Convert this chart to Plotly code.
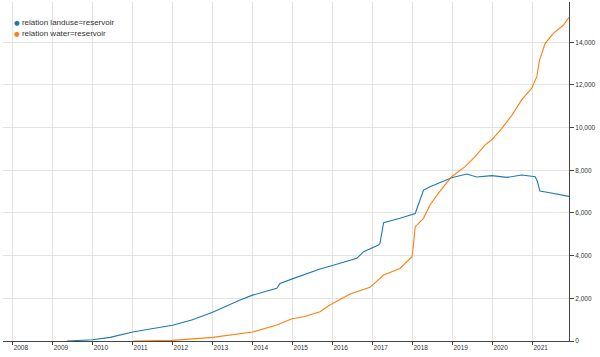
import plotly.graph_objects as go

# ---- data ----
series_names = ["relation landuse=reservoir", "relation water=reservoir"]
series_colors = ["#1f77b4", "#ff7f0e"]

landuse_dates = [
    "2009-05-12", "2009-09-09", "2010-01-01", "2010-06-10", "2011-01-01",
    "2011-06-10", "2012-01-01", "2012-07-01", "2013-01-01", "2013-09-09",
    "2014-01-01", "2014-08-10", "2014-09-09", "2014-12-24", "2015-09-09",
    "2015-12-24", "2016-08-10", "2016-10-12", "2017-02-24", "2017-03-10",
    "2017-04-12", "2017-09-09", "2018-01-26", "2018-02-10", "2018-04-12",
    "2018-06-10", "2018-11-10", "2018-12-24", "2019-05-12", "2019-08-10",
    "2019-12-28", "2020-05-12", "2020-09-27", "2021-01-26", "2021-02-14",
    "2021-03-10", "2021-06-10", "2021-09-09", "2021-12-01",
]
landuse_values = [
    0, 20, 60, 170, 420,
    560, 735, 1000, 1350, 1920,
    2150, 2470, 2700, 2900, 3375,
    3530, 3875, 4185, 4500, 4580,
    5550, 5750, 5970, 6200, 7077,
    7230, 7580, 7655, 7827, 7690,
    7750, 7670, 7780, 7700, 7500,
    7030, 6950, 6860, 6780,
]

water_dates = [
    "2011-01-08", "2012-01-01", "2013-01-01", "2014-01-01", "2014-08-10",
    "2014-12-28", "2015-04-12", "2015-09-09", "2015-12-09", "2016-06-10",
    "2016-12-09", "2017-04-12", "2017-09-09", "2017-12-28", "2018-01-12",
    "2018-01-26", "2018-04-12", "2018-06-10", "2018-08-25", "2018-12-24",
    "2019-04-27", "2019-07-27", "2019-10-27", "2019-12-24", "2020-03-28",
    "2020-06-28", "2020-09-24", "2020-12-24", "2021-02-10", "2021-03-07",
    "2021-04-27", "2021-07-12", "2021-10-12", "2021-12-01",
]
water_values = [
    0, 30, 170, 420, 750,
    1040, 1140, 1375, 1690, 2200,
    2515, 3090, 3400, 3950, 4600,
    5360, 5750, 6375, 6920, 7700,
    8170, 8640, 9190, 9420, 9970,
    10590, 11300, 11840, 12390, 13170,
    13950, 14420, 14810, 15170,
]

y_ticks = [0, 2000, 4000, 6000, 8000, 10000, 12000, 14000]
x_range = ["2007-10-05", "2021-12-01"]
y_range = [0, 15890]

FONT = "Liberation Sans, Arial, sans-serif"
AXIS_COLOR = "#444444"
GRID_COLOR = "#e3e3e3"

fig = go.Figure()
fig.add_trace(go.Scatter(x=landuse_dates, y=landuse_values, mode="lines",
                         name=series_names[0],
                         line=dict(color=series_colors[0], width=1.1)))
fig.add_trace(go.Scatter(x=water_dates, y=water_values, mode="lines",
                         name=series_names[1],
                         line=dict(color=series_colors[1], width=1.1)))

legend_y = [0.939, 0.9077]
for name, color, yy in zip(series_names, series_colors, legend_y):
    fig.add_annotation(
        xref="paper", yref="paper", x=0.0175, y=yy,
        xanchor="left", yanchor="middle", showarrow=False,
        text=(f"<span style='color:{color};font-family:DejaVu Sans;font-size:6.5px'>●</span>"
              f" {name}"),
        font=dict(family=FONT, size=8, color="#333333"),
        borderpad=0,
    )

fig.update_layout(
    width=600, height=357,
    margin=dict(l=3, r=31, t=2, b=16, autoexpand=False),
    paper_bgcolor="white", plot_bgcolor="white",
    showlegend=False,
    font=dict(family=FONT, size=6.5, color="#333333"),
)
fig.update_xaxes(
    type="date", range=x_range, automargin=False,
    tick0="2008-01-01", dtick="M12", tickformat="%Y",
    ticks="outside", ticklen=3, tickcolor=AXIS_COLOR, tickwidth=1,
    ticklabelposition="outside right",
    showline=True, linecolor=AXIS_COLOR, linewidth=1,
    showgrid=True, gridcolor=GRID_COLOR, gridwidth=1,
    zeroline=False,
    tickfont=dict(family=FONT, size=6.5, color="#333333"),
)
fig.update_yaxes(
    range=y_range, side="right", automargin=False,
    tickvals=y_ticks, tickformat=",",
    ticks="outside", ticklen=4, tickcolor=AXIS_COLOR, tickwidth=1,
    showline=True, linecolor=AXIS_COLOR, linewidth=1,
    showgrid=True, gridcolor=GRID_COLOR, gridwidth=1,
    zeroline=False,
    tickfont=dict(family=FONT, size=6.5, color="#333333"),
)

fig.write_html(
    "out.html",
    config={"displayModeBar": False},
    post_script="document.body.style.margin='0';document.body.style.overflow='hidden';",
)
